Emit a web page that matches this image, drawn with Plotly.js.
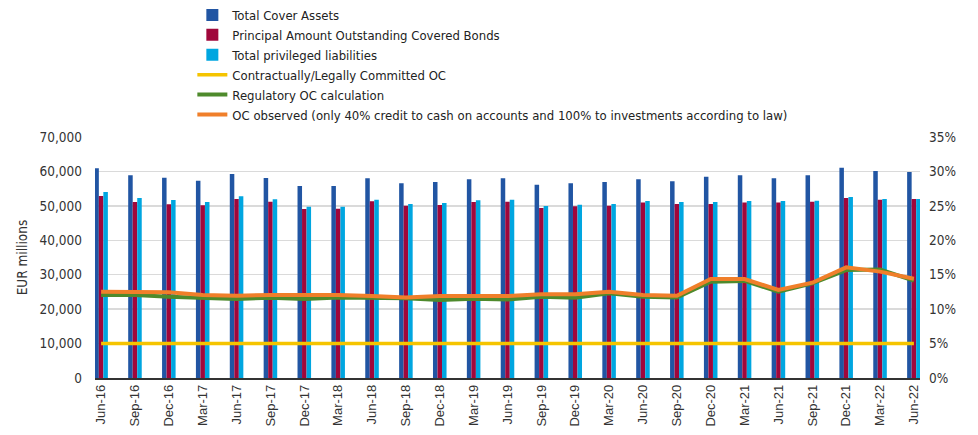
<!DOCTYPE html>
<html>
<head>
<meta charset="utf-8">
<script src="https://cdn.plot.ly/plotly-3.0.1.min.js"></script>
<style>
html,body{margin:0;padding:0;background:#fff;}
#chart{width:978px;height:435px;}
</style>
</head>
<body>
<div id="chart"></div>
<script>
const categories = ["Jun-16","Sep-16","Dec-16","Mar-17","Jun-17","Sep-17","Dec-17","Mar-18","Jun-18","Sep-18","Dec-18","Mar-19","Jun-19","Sep-19","Dec-19","Mar-20","Jun-20","Sep-20","Dec-20","Mar-21","Jun-21","Sep-21","Dec-21","Mar-22","Jun-22"];

const totalCoverAssets = [60900,58880,58190,57320,59260,58100,55780,55780,58010,56550,56940,57720,58010,56150,56550,56940,57720,57130,58490,58880,58000,58880,61090,60130,59840];
const principalOutstanding = [52870,51130,50460,50170,52000,51220,49100,49190,51330,50060,50260,51130,51220,49390,49870,50000,50940,50550,50550,50940,50940,51220,52290,51800,52000];
const privilegedLiabilities = [54030,52290,51710,51130,52780,51910,49760,49760,51800,50550,50840,51620,51800,49970,50350,50550,51420,51130,51130,51420,51420,51510,52580,52000,52000];

const committedOC = [0.05,0.05,0.05,0.05,0.05,0.05,0.05,0.05,0.05,0.05,0.05,0.05,0.05,0.05,0.05,0.05,0.05,0.05,0.05,0.05,0.05,0.05,0.05,0.05,0.05];
const regulatoryOC = [0.1205,0.1205,0.118,0.1157,0.1147,0.1166,0.1147,0.117,0.117,0.1157,0.1133,0.115,0.114,0.118,0.1166,0.123,0.118,0.117,0.1399,0.141,0.1253,0.1375,0.1568,0.1574,0.1413];
const observedOC = [0.1253,0.1245,0.1245,0.1205,0.1195,0.1205,0.121,0.1205,0.119,0.117,0.119,0.119,0.119,0.1215,0.1215,0.1253,0.1205,0.1195,0.1438,0.1438,0.1278,0.1384,0.1607,0.1545,0.1442];

const FONT = '"DejaVu Sans Condensed", "Liberation Sans Narrow", "Liberation Sans", sans-serif';

const traces = [
  {type:'bar', name:'Total Cover Assets', x:categories, y:totalCoverAssets, marker:{color:'#2155A3'}},
  {type:'bar', name:'Principal Amount Outstanding Covered Bonds', x:categories, y:principalOutstanding, marker:{color:'#A0073B'}},
  {type:'bar', name:'Total privileged liabilities', x:categories, y:privilegedLiabilities, marker:{color:'#00A6E0'}},
  {type:'scatter', mode:'lines', name:'Contractually/Legally Committed OC', x:categories, y:committedOC, yaxis:'y2', line:{color:'#F5C400', width:3.5}},
  {type:'scatter', mode:'lines', name:'Regulatory OC calculation', x:categories, y:regulatoryOC, yaxis:'y2', line:{color:'#4E8A2C', width:4}},
  {type:'scatter', mode:'lines', name:'OC observed (only 40% credit to cash on accounts and 100% to investments according to law)', x:categories, y:observedOC, yaxis:'y2', line:{color:'#F07F2A', width:4}}
];

const layout = {
  width:978, height:435,
  margin:{l:95, r:58, t:137, b:57},
  paper_bgcolor:'#fff', plot_bgcolor:'#fff',
  font:{family:FONT, size:13, color:'#333'},
  barmode:'group', bargap:0.6, bargroupgap:0,
  showlegend:true,
  legend:{x:0.118, xref:'paper', y:1.0, yref:'container', xanchor:'left', yanchor:'top', bgcolor:'rgba(0,0,0,0)', font:{family:FONT, size:13, color:'#222'}, tracegroupgap:0, itemwidth:30},
  xaxis:{type:'category', range:[-0.18, 24.18], tickangle:-90, tickfont:{family:'"Liberation Sans", "DejaVu Sans", sans-serif', size:13, color:'#333'}, showgrid:false, showline:true, linecolor:'#333', linewidth:1.5, ticks:'', fixedrange:true},
  yaxis:{range:[0,70000], dtick:10000, tickformat:',d', showgrid:true, gridcolor:'#DADADA', gridwidth:1.5, zeroline:false, showline:false, ticks:'', ticklabelstandoff:12, tickfont:{size:13.5, color:'#333'}, title:{text:'EUR millions', font:{size:13.5, color:'#333'}, standoff:8}},
  yaxis2:{overlaying:'y', side:'right', range:[0,0.35], dtick:0.05, tickformat:'.0%', showgrid:false, zeroline:false, ticks:'', ticklabelstandoff:8, tickfont:{size:13.5, color:'#333'}}
};

Plotly.newPlot('chart', traces, layout, {displayModeBar:false, staticPlot:true});
</script>
</body>
</html>
